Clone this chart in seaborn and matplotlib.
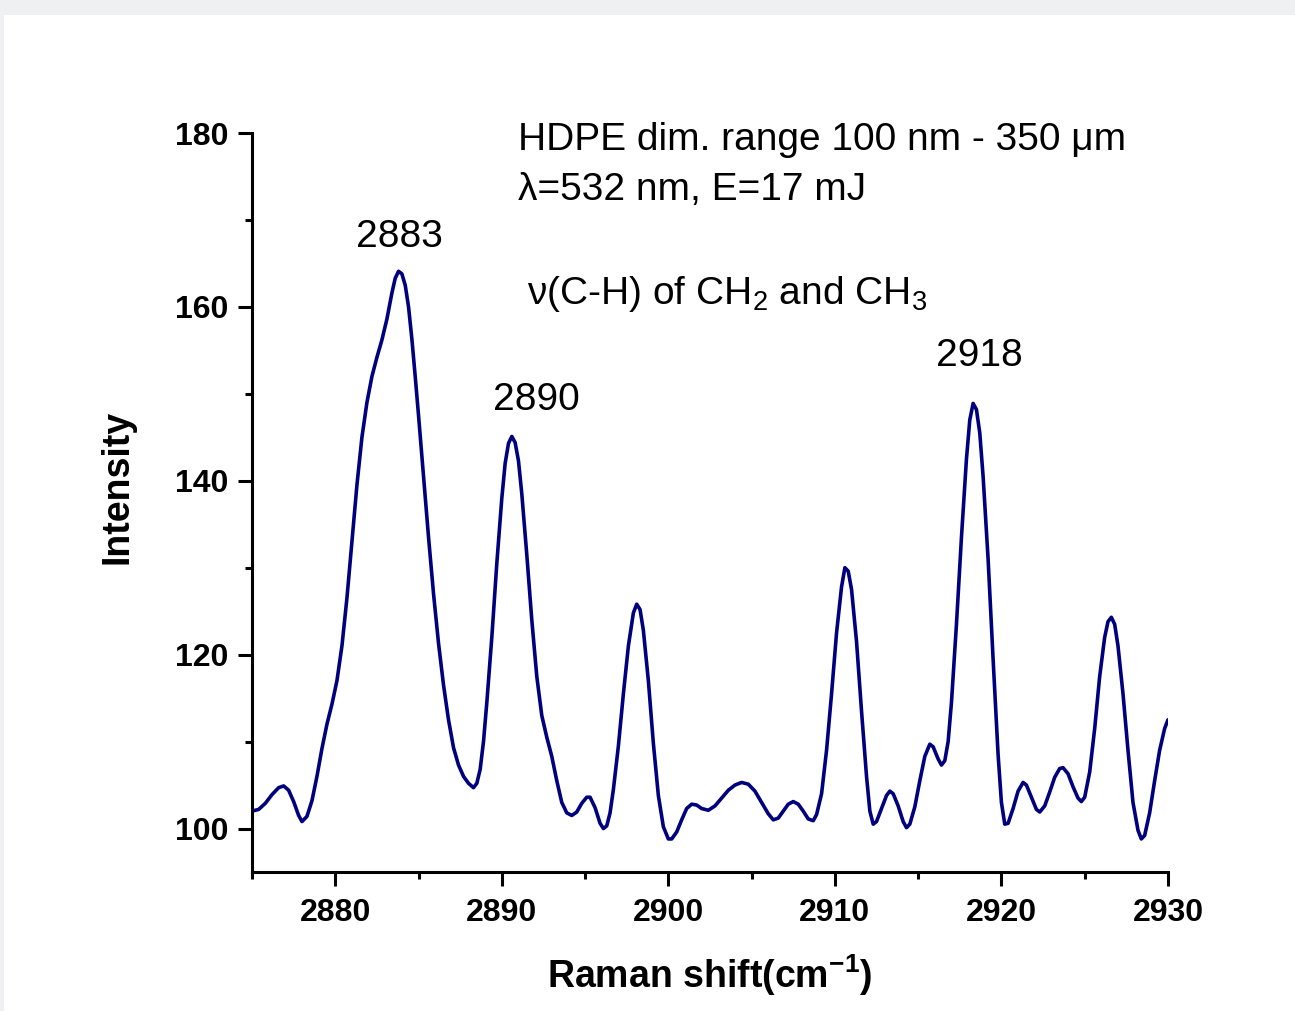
import numpy as np
import pandas as pd
import seaborn as sns
import matplotlib.pyplot as plt
from matplotlib.patches import Rectangle
from matplotlib.ticker import MultipleLocator

shift = [2875.0, 2875.4, 2875.8, 2876.2, 2876.6, 2876.9, 2877.2, 2877.5, 2877.8,
         2878.0, 2878.3, 2878.6, 2878.9, 2879.2, 2879.5, 2879.8, 2880.1, 2880.4, 2880.7,
         2881.0, 2881.3, 2881.6, 2881.9, 2882.2, 2882.5, 2882.8, 2883.1, 2883.4, 2883.6,
         2883.8, 2884.0, 2884.2, 2884.4, 2884.6, 2884.8, 2885.0, 2885.3, 2885.6, 2885.9,
         2886.2, 2886.5, 2886.8, 2887.1, 2887.4, 2887.7, 2888.0, 2888.3, 2888.5, 2888.7,
         2888.9, 2889.1, 2889.4, 2889.7, 2890.0, 2890.2, 2890.4, 2890.6, 2890.8, 2891.0,
         2891.2, 2891.5, 2891.8, 2892.1, 2892.4, 2892.7, 2893.0, 2893.3, 2893.6, 2893.9,
         2894.2, 2894.5, 2894.8, 2895.1, 2895.3, 2895.6, 2895.9, 2896.1, 2896.3, 2896.5,
         2896.7, 2897.0, 2897.3, 2897.6, 2897.9, 2898.1, 2898.3, 2898.5, 2898.8, 2899.1,
         2899.4, 2899.7, 2900.0, 2900.2, 2900.5, 2900.8, 2901.1, 2901.4, 2901.7, 2902.0,
         2902.4, 2902.8, 2903.2, 2903.6, 2904.0, 2904.4, 2904.8, 2905.2, 2905.6, 2906.0,
         2906.3, 2906.6, 2906.9, 2907.2, 2907.5, 2907.8, 2908.1, 2908.4, 2908.7, 2908.9,
         2909.2, 2909.5, 2909.8, 2910.1, 2910.4, 2910.6, 2910.8, 2911.0, 2911.3, 2911.6,
         2911.9, 2912.1, 2912.3, 2912.5, 2912.8, 2913.1, 2913.3, 2913.5, 2913.8, 2914.1,
         2914.3, 2914.5, 2914.8, 2915.1, 2915.4, 2915.7, 2915.9, 2916.2, 2916.4, 2916.6,
         2916.8, 2917.0, 2917.3, 2917.6, 2917.9, 2918.1, 2918.3, 2918.5, 2918.7, 2918.9,
         2919.2, 2919.5, 2919.8, 2920.0, 2920.2, 2920.4, 2920.7, 2921.0, 2921.3, 2921.5,
         2921.8, 2922.1, 2922.3, 2922.6, 2922.9, 2923.2, 2923.5, 2923.7, 2924.0, 2924.3,
         2924.6, 2924.8, 2925.0, 2925.3, 2925.6, 2925.9, 2926.2, 2926.4, 2926.6, 2926.8,
         2927.0, 2927.3, 2927.6, 2927.9, 2928.2, 2928.4, 2928.6, 2928.9, 2929.2, 2929.5,
         2929.8, 2930.0]
intensity = [102.0, 102.2, 102.9, 103.9, 104.7, 104.9, 104.4, 103.1, 101.5,
             100.8, 101.4, 103.2, 106.0, 109.2, 112.0, 114.3, 117.0, 121.0, 126.5,
             133.0, 139.5, 145.0, 149.0, 152.0, 154.2, 156.2, 158.6, 161.6, 163.3,
             164.1, 163.8, 162.5, 160.0, 156.3, 152.0, 147.5, 140.5, 133.5, 127.0,
             121.3, 116.5, 112.5, 109.3, 107.3, 106.0, 105.2, 104.7, 105.2, 106.8,
             110.0, 114.5, 122.0, 130.5, 138.0, 142.0, 144.3, 145.1, 144.4, 142.3,
             138.5, 131.5, 124.0, 117.5, 113.0, 110.5, 108.3, 105.5, 103.0, 101.8,
             101.5, 101.9, 102.9, 103.6, 103.6, 102.4, 100.6, 100.0, 100.3, 101.8,
             104.5, 109.5, 115.5, 121.0, 124.8, 125.8, 125.2, 122.8, 117.0, 109.8,
             103.8, 100.2, 98.8, 98.8, 99.6, 101.0, 102.3, 102.8, 102.7, 102.3,
             102.1, 102.6, 103.5, 104.4, 105.0, 105.3, 105.1, 104.3, 103.0, 101.7,
             101.0, 101.2, 102.0, 102.8, 103.1, 102.8, 102.0, 101.1, 100.9, 101.6,
             104.0, 109.0, 115.5, 122.5, 127.8, 130.0, 129.6, 127.5, 121.5, 113.5,
             106.0, 102.0, 100.5, 100.8, 102.3, 103.8, 104.3, 104.0, 102.6, 100.8,
             100.1, 100.5, 102.5, 105.5, 108.3, 109.7, 109.4, 108.0, 107.3, 107.8,
             110.0, 114.5, 123.5, 133.5, 142.5, 147.0, 148.9, 148.2, 145.5, 140.5,
             131.0, 119.5, 108.5, 103.0, 100.5, 100.6, 102.3, 104.3, 105.3, 105.0,
             103.6, 102.2, 101.9, 102.6, 104.2, 105.9, 106.9, 107.0, 106.3, 104.8,
             103.5, 103.1, 103.6, 106.5, 111.5, 117.5, 122.0, 123.8, 124.3, 123.5,
             121.0, 115.5, 109.0, 103.0, 99.8, 98.8, 99.2, 101.8, 105.5, 109.0,
             111.5, 112.5]

peak_labels = ["2883", "2890", "2918"]

df = pd.DataFrame({"shift": shift, "intensity": intensity})

sns.set_style("ticks")
plt.rcParams["font.family"] = ["Liberation Sans", "DejaVu Sans"]
plt.rcParams["mathtext.fontset"] = "custom"
plt.rcParams["mathtext.rm"] = "Liberation Sans"
plt.rcParams["mathtext.bf"] = "Liberation Sans:bold"
for key in ["text.color", "axes.labelcolor", "xtick.color", "ytick.color", "axes.edgecolor"]:
    plt.rcParams[key] = "black"

fig = plt.figure(figsize=(12.95, 10.11), dpi=100, facecolor="#eff0f2")
# white page inside the grey screenshot border
fig.patches.append(Rectangle((4 / 1295, 0), 1, (1011 - 15) / 1011,
                             transform=fig.transFigure, facecolor="white",
                             edgecolor="none", zorder=-10))
ax = fig.add_axes([0.1946, 0.1375, 0.7073, 0.7309])
ax.set_facecolor("none")

sns.lineplot(data=df, x="shift", y="intensity", ax=ax, color="#00007f",
             linewidth=2.6, sort=False, estimator=None,
             solid_joinstyle="round", solid_capstyle="round")

ax.set_xlim(2875, 2930)
ax.set_ylim(95, 180)
ax.xaxis.set_major_locator(MultipleLocator(10))
ax.xaxis.set_minor_locator(MultipleLocator(5))
ax.yaxis.set_major_locator(MultipleLocator(20))
ax.yaxis.set_minor_locator(MultipleLocator(10))
ax.tick_params(which="major", direction="out", length=10, width=2.2, labelsize=23)
ax.tick_params(axis="x", which="major", pad=9)
ax.tick_params(axis="y", which="major", pad=7)
ax.tick_params(which="minor", direction="out", length=5, width=2.2)
for lab in ax.get_xticklabels() + ax.get_yticklabels():
    lab.set_fontweight("bold")
sns.despine(ax=ax)
for sp in ["left", "bottom"]:
    ax.spines[sp].set_linewidth(2.2)

ax.set_xlabel(r"Raman shift(cm$^{\mathbf{-1}}$)", fontsize=27, fontweight="bold",
              labelpad=17)
ax.set_ylabel("Intensity", fontsize=27, fontweight="bold")
ax.yaxis.set_label_coords(-0.127, 0.521)

ax.text(2891.0, 178.0, "HDPE dim. range 100 nm - 350 \u03bcm", fontsize=28,
        ha="left", va="baseline")
ax.text(2891.0, 172.3, "\u03bb=532 nm, E=17 mJ", fontsize=28, ha="left", va="baseline")
ax.text(2891.5, 160.3, "\u03bd(C-H) of CH$_2$ and CH$_3$",
        fontsize=28, ha="left", va="baseline")

ax.text(2883.86, 166.9, peak_labels[0], fontsize=28, ha="center", va="baseline")
ax.text(2892.05, 148.1, peak_labels[1], fontsize=28, ha="center", va="baseline")
ax.text(2918.7, 153.2, peak_labels[2], fontsize=28, ha="center", va="baseline")

fig.savefig("out.png", dpi=100, facecolor=fig.get_facecolor())
